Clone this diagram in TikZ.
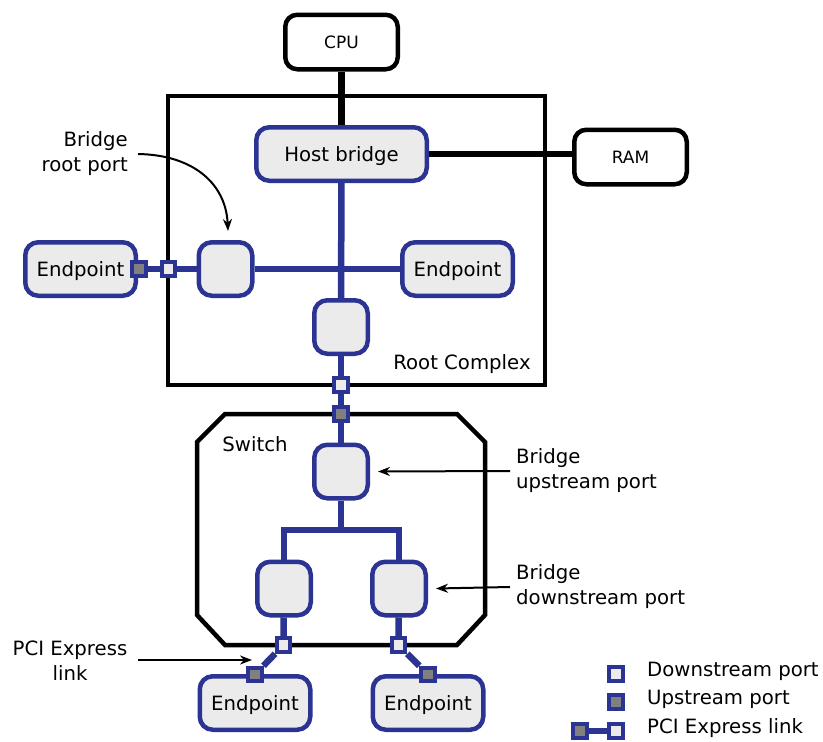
\documentclass[tikz,border=0pt]{standalone}
\usepackage{fontspec}
\setmainfont{DejaVu Sans}
\usetikzlibrary{arrows.meta}
\definecolor{pciblue}{HTML}{2B3393}
\definecolor{boxfill}{HTML}{EBEBEB}
\definecolor{upgrey}{HTML}{808080}
\begin{document}
\begin{tikzpicture}[x=1pt,y=-1pt,
  font=\fontsize{19.7}{25}\selectfont,
  hw/.style={draw=black, fill=white, line width=4.5pt, rounded corners=12pt, inner sep=0pt,
    minimum width=112.5pt, minimum height=54.5pt, font=\fontsize{17}{20}\selectfont},
  bbox/.style={draw=pciblue, fill=boxfill, line width=4.5pt, rounded corners=13pt, inner sep=0pt,
    minimum width=53.5pt, minimum height=53.5pt, text depth=0pt},
  ep/.style={bbox, minimum width=110.5pt},
  dport/.style={draw=pciblue, fill=boxfill, line width=4pt, minimum size=13.5pt, inner sep=0pt},
  uport/.style={dport, fill=upgrey},
  bus/.style={draw=pciblue, line width=6.5pt},
  sys/.style={draw=black, line width=6.5pt},
  frame/.style={draw=black, line width=4.5pt, line join=miter},
  ann/.style={draw=black, line width=2pt, -{Stealth[length=12pt,width=9pt]}},
  lbl/.style={inner sep=0pt}
]
\useasboundingbox (0,0) rectangle (823,742);

% frames
\node[frame, minimum width=377pt, minimum height=289pt, inner sep=0pt] (rc) at (356.5,240.5) {};
\draw[frame] (225,414) -- (457,414) -- (485,442) -- (485,615) -- (457,645)
  -- (225,645) -- (197,615) -- (197,442) -- cycle;
\node[lbl] (rclbl) at (462,364) {Root Complex};
\node[lbl] (swlbl) at (255,444) {Switch};

% system nodes
\node[hw] (cpu) at (341.5,42) {CPU};
\node[hw] (ram) at (630.5,157) {RAM};
\node[bbox, minimum width=170.5pt] (hb) at (341.5,154) {Host bridge};

% root complex
\node[ep] (ep0) at (80.5,269) {Endpoint};
\node[bbox] (rport) at (225.5,269) {};
\node[ep] (ep1) at (457.5,269) {Endpoint};
\node[bbox] (rcb) at (341,327) {};

% switch
\node[bbox] (swu) at (341,471.5) {};
\node[bbox] (swd1) at (284,588.5) {};
\node[bbox] (swd2) at (399,588.5) {};
\node[ep] (ep2) at (255,703) {Endpoint};
\node[ep] (ep3) at (428,703) {Endpoint};

% connectors (system)
\draw[sys] (cpu) -- (hb);
\draw[sys] (hb.east) -- (hb.east -| ram.west);

% connectors (PCI)
\coordinate (sj) at (341,530);
\draw[bus] (hb) -- (rcb);
\draw[bus] (rport) -- (ep1);
\draw[bus] (swu) -- (sj);
\draw[bus, line join=miter] (swd1.north) |- (sj) -| (swd2.north);

% ports
\node[uport] (up0) at (139,269) {};
\node[dport] (dp0) at (168.5,269) {};
\node[dport] (dp1) at (341,385) {};
\node[uport] (up1) at (341,414) {};
\node[dport] (dp2) at (283.5,645) {};
\node[dport] (dp3) at (398.5,645) {};
\node[uport] (up2) at (255,674.5) {};
\node[uport] (up3) at (428,674.5) {};

\draw[bus] (up0) -- (dp0);
\draw[bus] (dp0) -- (rport);
\draw[bus] (rcb) -- (dp1);
\draw[bus] (dp1) -- (up1);
\draw[bus] (up1) -- (swu);
\draw[bus] (swd1) -- (dp2);
\draw[bus] (dp2) -- (up2);
\draw[bus] (swd2) -- (dp3);
\draw[bus] (dp3) -- (up3);

% annotations
\node[lbl, align=right, anchor=east] (lrp) at (128,154) {Bridge\\root port};
\coordinate (rpt) at (228,231);
\draw[ann] ([xshift=10pt]lrp.east) .. controls (195,155) and (226,185) .. (rpt);

\node[lbl, align=left, anchor=west] (lup) at (516,471) {Bridge\\upstream port};
\draw[ann] ([xshift=-6pt]lup.west) -- ([xshift=8pt]swu.east);

\node[lbl, align=left, anchor=west] (ldn) at (516,587) {Bridge\\downstream port};
\draw[ann] ([xshift=-6pt]ldn.west) -- ([xshift=8pt]swd2.east);

\node[lbl, align=center] (llk) at (70,661) {PCI Express\\link};
\coordinate (lk) at (252,660);
\draw[ann] (138,660) -- (lk);

% legend
\node[dport] (lg1) at (616,674) {};
\node[uport] (lg2) at (616,702) {};
\node[uport] (lg3a) at (580,731) {};
\node[dport] (lg3b) at (616,731) {};
\draw[bus] (lg3a) -- (lg3b);
\node[lbl, anchor=mid west] (lt1) at (647,674) {Downstream port};
\node[lbl, anchor=mid west] (lt2) at (647,702) {Upstream port};
\node[lbl, anchor=mid west] (lt3) at (647,731) {PCI Express link};
\end{tikzpicture}
\end{document}
